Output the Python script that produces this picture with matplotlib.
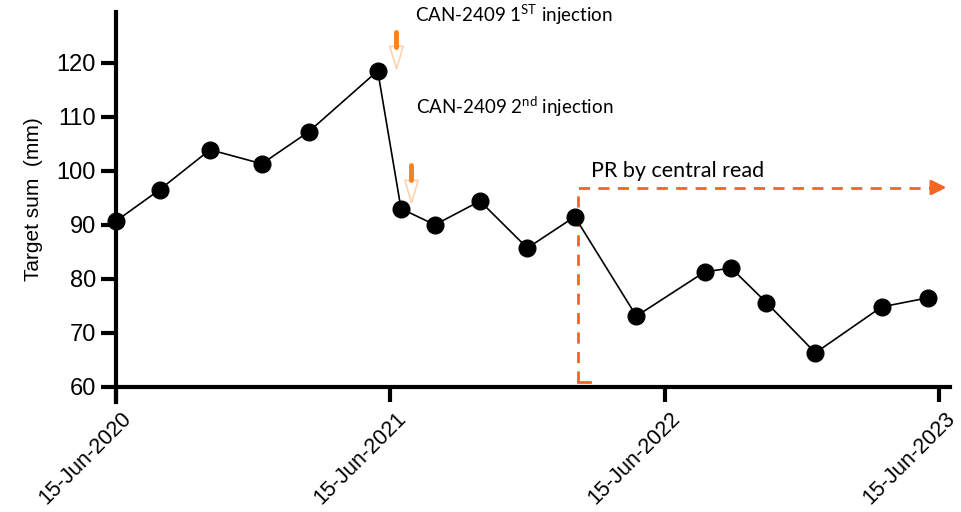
import numpy as np
import pandas as pd
import matplotlib.pyplot as plt
import matplotlib.dates as mdates
import matplotlib.transforms as mtransforms
from matplotlib.path import Path

plt.rcParams['font.family'] = ['Liberation Sans', 'DejaVu Sans']
plt.rcParams['mathtext.fontset'] = 'custom'
plt.rcParams['mathtext.rm'] = 'Lato'

# scan dates and target sums
dates = pd.to_datetime([
    '2020-06-15', '2020-08-12', '2020-10-18', '2020-12-26', '2021-02-26',
    '2021-05-29', '2021-06-29', '2021-08-13', '2021-10-12', '2021-12-14',
    '2022-02-15', '2022-05-08', '2022-08-07', '2022-09-11', '2022-10-28',
    '2023-01-01', '2023-03-30', '2023-05-31'])
target_sum = [90.7, 96.5, 103.9, 101.3, 107.2, 118.5, 93.0, 90.0, 94.4, 85.7,
              91.5, 73.1, 81.3, 82.0, 75.6, 66.3, 74.8, 76.5]

tick_dates = pd.to_datetime(['2020-06-15', '2021-06-15', '2022-06-15', '2023-06-15'])
y_ticks = [60, 70, 80, 90, 100, 110, 120]

injection_dates = pd.to_datetime(['2021-06-22', '2021-07-12'])
injection_labels = [r'CAN-2409 1$^{\mathrm{ST}}$ injection', r'CAN-2409 2$^{\mathrm{nd}}$ injection']
injection_y = [123.0, 98.3]  # top of the hollow arrowhead
label_dates = pd.to_datetime(['2021-07-17', '2021-07-19'])
label_y = [128.9, 111.9]

pr_start = pd.Timestamp('2022-02-19')
pr_end = pd.Timestamp('2023-06-28')
pr_level = 96.9

orange = '#F58220'
pale = '#FCD3AE'
pr_col = '#F26522'

fig = plt.figure(figsize=(9.62, 5.12), dpi=100)
ax = fig.add_axes([0.1206, 0.2148, 0.8669, 0.7618])

ax.plot(dates, target_sum, color='black', lw=1.2, marker='o', ms=12,
        mfc='black', mec='black', clip_on=False, zorder=4)

# injection arrows: short solid bar plus hollow arrowhead
head = Path([(-0.6, 1), (0.6, 1), (0, -1), (-0.6, 1)],
            [Path.MOVETO, Path.LINETO, Path.LINETO, Path.CLOSEPOLY])
for d, y in zip(injection_dates, injection_y):
    ax.plot([d, d], [y, y + 2.7], color=orange, lw=3.5, solid_capstyle='round', zorder=3)
    ax.scatter([d], [y - 2.0], marker=head, s=260, facecolor='white',
               edgecolor=pale, linewidth=1.2, zorder=2)
for d, y, lab in zip(label_dates, label_y, injection_labels):
    ax.text(d, y, lab, fontsize=13.5, family='Lato', ha='left', va='center', clip_on=False)

# partial response line
ax.plot([pr_start, pr_start + pd.Timedelta(days=16)], [60.9, 60.9], color=pr_col, lw=2, zorder=1)
ax.plot([pr_start, pr_start, pr_end - pd.Timedelta(days=15)], [60.9, pr_level, pr_level],
        color=pr_col, lw=2, ls=(0, (4, 3)), zorder=1)
ax.annotate('', xy=(pr_end, pr_level), xytext=(pr_end - pd.Timedelta(days=22), pr_level),
            arrowprops=dict(arrowstyle='-|>,head_length=0.9,head_width=0.45',
                            color=pr_col, lw=2), annotation_clip=False)
ax.text(pr_start + pd.Timedelta(days=18), pr_level + 1.2, 'PR by central read',
        fontsize=15.5, family='Lato', ha='left', va='bottom')

ax.set_xlim(tick_dates[0], pd.Timestamp('2023-06-29'))
ax.set_ylim(57.2, 129.4)
ax.set_yticks(y_ticks)
ax.set_xticks(tick_dates)
ax.xaxis.set_major_formatter(mdates.DateFormatter('%d-%b-%Y'))

ax.spines['top'].set_visible(False)
ax.spines['right'].set_visible(False)
ax.spines['bottom'].set_position(('data', 60))
for s in ['left', 'bottom']:
    ax.spines[s].set_linewidth(3)
ax.tick_params(width=3, length=11, labelsize=17)
ax.tick_params(axis='x', labelsize=15.5, pad=2)
shift = mtransforms.ScaledTranslation(0.05, -0.03, fig.dpi_scale_trans)
for lab in ax.get_xticklabels():
    lab.set_rotation(45)
    lab.set_ha('right')
    lab.set_va('top')
    lab.set_rotation_mode('anchor')
    lab.set_transform(lab.get_transform() + shift)

ax.set_ylabel('Target sum  (mm)', fontsize=15)
ax.yaxis.set_label_coords(-0.088, (94.8 - 57.2) / (129.4 - 57.2))

fig.savefig('out.png', dpi=100)
